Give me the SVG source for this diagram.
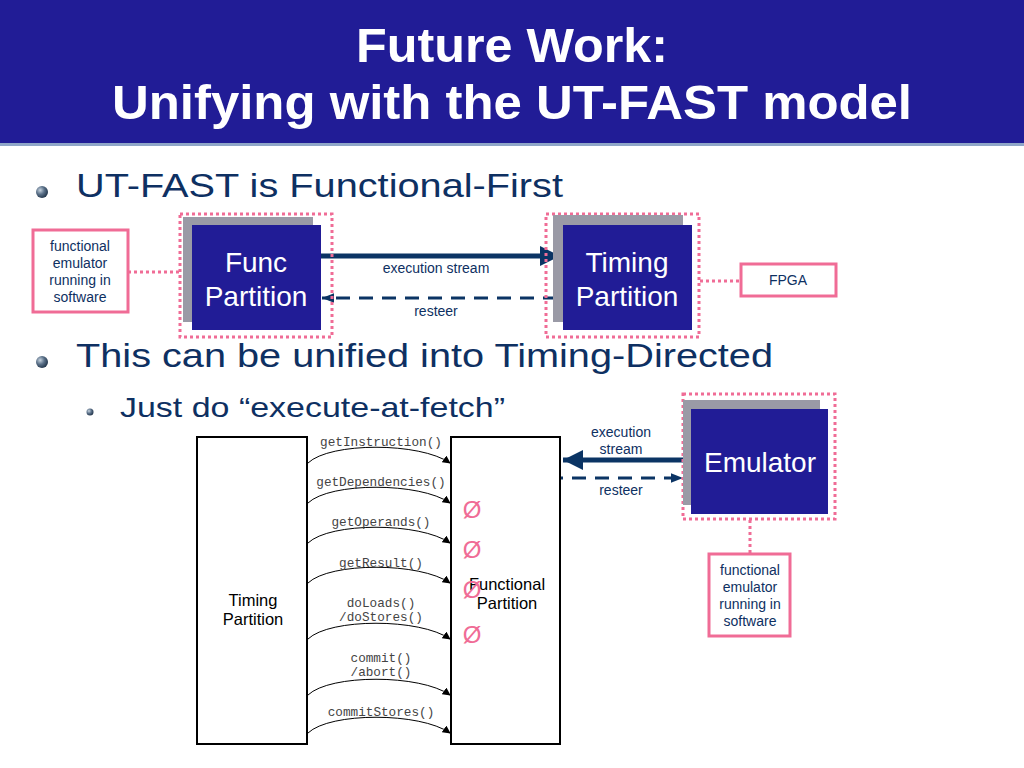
<svg xmlns="http://www.w3.org/2000/svg" width="1024" height="768" viewBox="0 0 1024 768">
<style>
.title{font-family:"Liberation Sans",Arial,sans-serif;font-weight:bold;font-size:48px;fill:#fff;text-anchor:middle}
.bul{font-family:"Liberation Sans",Arial,sans-serif;fill:#0E3062}
.blk{font-family:"Liberation Sans",Arial,sans-serif;font-size:28px;fill:#fff;text-anchor:middle}
.sm{font-family:"Liberation Sans",Arial,sans-serif;font-size:14px;fill:#0E3062;text-anchor:middle}
.lbl{font-family:"Liberation Sans",Arial,sans-serif;font-size:14px;fill:#0E3062;text-anchor:middle}
.mono{font-family:"Liberation Mono","Courier New",monospace;font-size:12.7px;fill:#444;text-anchor:middle}
.bk{font-family:"Liberation Sans",Arial,sans-serif;font-size:16.5px;fill:#000;text-anchor:middle}
.dot{fill:none;stroke:#F06C96;stroke-width:3;stroke-dasharray:3 3}
.pbox{fill:#fff;stroke:#F06C96;stroke-width:3}
.shadow{fill:#9A9AA6}
.blue{fill:#211C96}
.solid{stroke:#0B3464;stroke-width:5;fill:none}
.dash{stroke:#0B3464;stroke-width:3;fill:none;stroke-dasharray:14 9}
.arc{fill:none;stroke:#000;stroke-width:1}
.null{font-family:"Liberation Sans",Arial,sans-serif;font-size:24px;fill:#F06C96;text-anchor:middle}
</style>
<defs>
<radialGradient id="sph" cx="0.35" cy="0.35" r="0.7">
<stop offset="0" stop-color="#c8d4e0"/><stop offset="0.5" stop-color="#5a7088"/><stop offset="1" stop-color="#22344a"/>
</radialGradient>
<marker id="ah" viewBox="0 0 10 10" refX="9" refY="5" markerWidth="8" markerHeight="8" orient="auto" markerUnits="userSpaceOnUse"><path d="M0,0 L10,5 L0,10 z" fill="#000"/></marker>
<marker id="big" viewBox="0 0 10 10" refX="10" refY="5" markerWidth="4" markerHeight="4" orient="auto"><path d="M0,0 L10,5 L0,10 z" fill="#0B3464"/></marker>
<marker id="sml" viewBox="0 0 10 10" refX="10" refY="5" markerWidth="4" markerHeight="4" orient="auto"><path d="M0,1 L10,5 L0,9 z" fill="#0B3464"/></marker>
</defs>
<rect width="1024" height="768" fill="#fff"/>
<rect x="0" y="0" width="1024" height="143" fill="#211C96"/>
<rect x="0" y="143" width="1024" height="3" fill="#8FA6C8"/>
<text class="title" x="512" y="62" textLength="312" lengthAdjust="spacingAndGlyphs">Future Work:</text>
<text class="title" x="512" y="119" textLength="800" lengthAdjust="spacingAndGlyphs">Unifying with the UT-FAST model</text>

<circle cx="42" cy="192" r="6" fill="url(#sph)"/>
<text class="bul" x="76" y="197" font-size="34" textLength="487" lengthAdjust="spacingAndGlyphs">UT-FAST is Functional-First</text>
<circle cx="42" cy="362" r="6" fill="url(#sph)"/>
<text class="bul" x="76" y="367" font-size="34" textLength="697" lengthAdjust="spacingAndGlyphs">This can be unified into Timing-Directed</text>
<circle cx="90" cy="412" r="3.5" fill="url(#sph)"/>
<text class="bul" x="120" y="417" font-size="28" textLength="385" lengthAdjust="spacingAndGlyphs">Just do “execute-at-fetch”</text>

<g id="connectors">
<line class="dot" x1="128" y1="272" x2="179" y2="272"/>
<line class="dot" x1="700" y1="281" x2="741" y2="281"/>
<line class="solid" x1="321" y1="256" x2="560" y2="256" marker-end="url(#big)"/>
<line class="dash" x1="557" y1="298" x2="322" y2="298" marker-end="url(#sml)"/>
<text class="lbl" x="436" y="273">execution stream</text>
<text class="lbl" x="436" y="316">resteer</text>
<line class="solid" x1="683" y1="460" x2="563" y2="460" marker-end="url(#big)"/>
<line class="dash" x1="457" y1="478" x2="683" y2="478" marker-end="url(#sml)"/>
<text class="lbl" x="621" y="437">execution</text>
<text class="lbl" x="621" y="454">stream</text>
<text class="lbl" x="621" y="495">resteer</text>
<line class="dot" x1="750" y1="520" x2="750" y2="553"/>
<path class="arc" d="M308,463 C330,442 420,442 450,463" marker-end="url(#ah)"/>
<path class="arc" d="M308,503 C330,482 420,482 450,503" marker-end="url(#ah)"/>
<path class="arc" d="M308,543 C330,522 420,522 450,543" marker-end="url(#ah)"/>
<path class="arc" d="M308,583 C330,562 420,562 450,583" marker-end="url(#ah)"/>
<path class="arc" d="M308,639 C330,618 420,618 450,639" marker-end="url(#ah)"/>
<path class="arc" d="M308,695 C330,674 420,674 450,695" marker-end="url(#ah)"/>
<path class="arc" d="M308,733 C330,712 420,712 450,733" marker-end="url(#ah)"/>
<text class="mono" x="381" y="446">getInstruction()</text>
<text class="mono" x="381" y="486">getDependencies()</text>
<text class="mono" x="381" y="526">getOperands()</text>
<text class="mono" x="381" y="567">getResult()</text>
<text class="mono" x="381" y="607">doLoads()</text>
<text class="mono" x="381" y="621">/doStores()</text>
<text class="mono" x="381" y="662">commit()</text>
<text class="mono" x="381" y="676">/abort()</text>
<text class="mono" x="381" y="716">commitStores()</text>
</g>

<g id="func-emulator-note">
<rect class="pbox" x="33" y="230" width="95" height="82"/>
<text class="sm" x="80" y="251">functional</text>
<text class="sm" x="80" y="268">emulator</text>
<text class="sm" x="80" y="285">running in</text>
<text class="sm" x="80" y="302">software</text>
</g>
<g id="func-partition">
<rect class="dot" x="180" y="214" width="152" height="123"/>
<rect class="shadow" x="183" y="217" width="130" height="105"/>
<rect class="blue" x="192" y="225" width="129" height="105"/>
<text class="blk" x="256" y="272">Func</text>
<text class="blk" x="256" y="306">Partition</text>
</g>
<g id="timing-partition">
<rect class="dot" x="546" y="214" width="153" height="123"/>
<rect class="shadow" x="553" y="215" width="130" height="107"/>
<rect class="blue" x="563" y="225" width="129" height="105"/>
<text class="blk" x="627" y="272">Timing</text>
<text class="blk" x="627" y="306">Partition</text>
</g>
<g id="fpga">
<rect class="pbox" x="741" y="264" width="95" height="32"/>
<text class="sm" x="788" y="285">FPGA</text>
</g>

<g id="timing-box">
<rect x="197" y="437" width="110" height="307" fill="#fff" stroke="#000" stroke-width="2"/>
<text class="bk" x="253" y="606">Timing</text>
<text class="bk" x="253" y="625">Partition</text>
</g>
<g id="functional-box">
<rect x="451" y="437" width="109" height="307" fill="#fff" stroke="#000" stroke-width="2"/>
<text class="bk" x="507" y="590">Functional</text>
<text class="bk" x="507" y="609">Partition</text>
<text class="null" x="472" y="518">Ø</text>
<text class="null" x="472" y="558">Ø</text>
<text class="null" x="472" y="598">Ø</text>
<text class="null" x="472" y="643">Ø</text>
</g>
<g id="emulator">
<rect class="dot" x="683" y="394" width="152" height="125"/>
<rect class="shadow" x="683" y="400" width="137" height="105"/>
<rect class="blue" x="691" y="409" width="137" height="105"/>
<text class="blk" x="760" y="472">Emulator</text>
</g>
<g id="emulator-note">
<rect class="pbox" x="709" y="554" width="81" height="82"/>
<text class="sm" x="750" y="575">functional</text>
<text class="sm" x="750" y="592">emulator</text>
<text class="sm" x="750" y="609">running in</text>
<text class="sm" x="750" y="626">software</text>
</g>
</svg>
